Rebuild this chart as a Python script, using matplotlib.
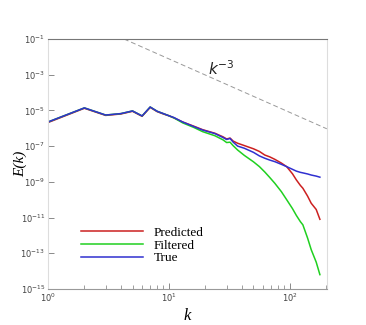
import numpy as np
import matplotlib
matplotlib.use("Agg")
import matplotlib.pyplot as plt
from matplotlib.ticker import FixedLocator, LogLocator, NullLocator, LogFormatterSciNotation

# numero de onda k
k = [1, 2, 3, 4, 5, 6, 7, 8, 9, 10, 11, 13, 16, 19, 24, 28, 30, 32, 34, 37, 42, 50,
     56, 62, 68, 75, 85, 94, 105, 113, 122, 128, 140, 150, 165, 177]

# log10 E(k)
log_pred = [-5.68, -4.88, -5.28, -5.20, -5.05, -5.33, -4.83, -5.07, -5.20, -5.30, -5.42, -5.65,
            -5.88, -6.08, -6.28, -6.48, -6.60, -6.55, -6.72, -6.84, -6.97, -7.15, -7.30, -7.50,
            -7.60, -7.74, -7.95, -8.15, -8.55, -8.89, -9.20, -9.36, -9.80, -10.20, -10.55, -11.10]
log_filt = [-5.65, -4.86, -5.26, -5.18, -5.03, -5.31, -4.81, -5.05, -5.18, -5.30, -5.42, -5.70,
            -5.95, -6.19, -6.42, -6.65, -6.80, -6.78, -6.98, -7.22, -7.52, -7.88, -8.15, -8.45,
            -8.75, -9.08, -9.55, -10.00, -10.50, -10.88, -11.23, -11.41, -12.15, -12.80, -13.50, -14.20]
log_true = [-5.65, -4.86, -5.26, -5.18, -5.03, -5.31, -4.81, -5.05, -5.18, -5.30, -5.40, -5.65,
            -5.90, -6.10, -6.30, -6.52, -6.63, -6.57, -6.78, -7.00, -7.12, -7.35, -7.55, -7.68,
            -7.78, -7.87, -8.02, -8.15, -8.30, -8.40, -8.47, -8.50, -8.56, -8.62, -8.68, -8.74]

labels = ['Predicted', 'Filtered', 'True']
colors = ['#cc2020', '#20d020', '#3030d0']

# recta de referencia k^-3
k_ref = [4.25, 202]
c_ref = 7.68

serif = 'Liberation Serif'

fig = plt.figure(figsize=(3.66, 3.25), dpi=100)
ax = fig.add_axes([0.131, 0.111, 0.762, 0.769])

series = [log_pred, log_filt, log_true]
for vals, lab, col in zip(series, labels, colors):
    ax.plot(k, 10.0 ** np.array(vals), color=col, linewidth=1.1, label=lab)

kr = np.array(k_ref, dtype=float)
ax.plot(kr, c_ref * kr ** -3, color='#999999', linewidth=0.7, dashes=(5, 3))
ax.text(27, 10 ** -2.68, r'$k^{-3}$', fontsize=11, family=serif, style='italic',
        ha='center', va='center', color='#222222')

ax.set_xscale('log')
ax.set_yscale('log')
ax.set_xlim(1, 202)
ax.set_ylim(1e-15, 1e-1)

ax.yaxis.set_major_locator(FixedLocator([10.0 ** e for e in range(-15, 0, 2)]))
ax.yaxis.set_major_formatter(LogFormatterSciNotation())
ax.yaxis.set_minor_locator(NullLocator())
ax.xaxis.set_major_locator(FixedLocator([1, 10, 100]))
ax.xaxis.set_minor_locator(LogLocator(base=10, subs=np.arange(2, 10)))

ax.tick_params(which='both', direction='in', labelsize=6, labelcolor='#444444',
               color='#777777', top=False, right=False)
ax.tick_params(which='major', length=4, width=0.6, pad=2)
ax.tick_params(which='minor', length=3, width=0.5)

# bordes
ax.spines['top'].set_color('#777777')
ax.spines['bottom'].set_color('#999999')
ax.spines['left'].set_color('#dddddd')
ax.spines['right'].set_color('#dddddd')
for s in ax.spines.values():
    s.set_linewidth(0.8)

ax.set_xlabel('k', family=serif, style='italic', fontsize=12, labelpad=3)
ax.set_ylabel('E(k)', family=serif, style='italic', fontsize=11, labelpad=-5)

ax.legend(loc='upper left', bbox_to_anchor=(0.12, 0.25), frameon=False,
          prop={'family': serif, 'size': 9.5}, handlelength=4.7, handletextpad=0.8,
          labelspacing=0.05, borderpad=0, borderaxespad=0)

fig.savefig('out.png', dpi=100)
